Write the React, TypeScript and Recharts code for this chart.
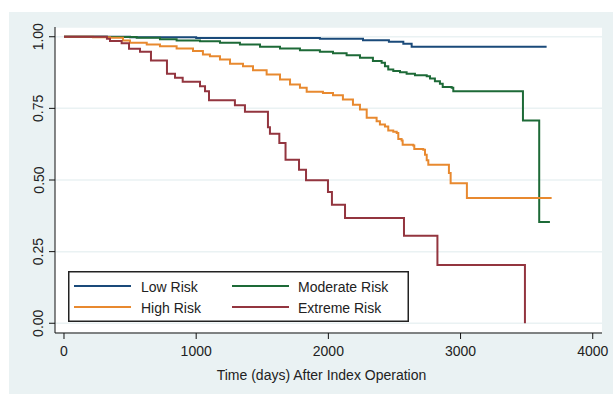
import { LineChart, Line, XAxis, YAxis, CartesianGrid } from 'recharts';

// Kaplan-Meier estimates (time in days, survival proportion)
const lowRiskT = [0, 500, 1000, 1936, 2262, 2458, 2567, 2630, 3651];
const lowRiskS = [1.0, 0.998, 0.996, 0.993, 0.988, 0.9825, 0.9755, 0.965, 0.965];

const moderateRiskT = [
  0, 323, 550, 726, 852, 1029, 1180, 1331, 1483, 1634, 1785, 1936, 2035, 2138, 2239, 2337, 2403,
  2428, 2453, 2491, 2542, 2592, 2655, 2744, 2769, 2806, 2844, 2865, 2933, 2945, 3472, 3595, 3676,
];
const moderateRiskS = [
  1.0, 0.999, 0.9965, 0.991, 0.987, 0.984, 0.979, 0.973, 0.965, 0.959, 0.953, 0.948, 0.942, 0.935,
  0.927, 0.915, 0.909, 0.897, 0.886, 0.88, 0.876, 0.871, 0.866, 0.862, 0.854, 0.845, 0.836, 0.825,
  0.822, 0.81, 0.708, 0.353, 0.353,
];

const highRiskT = [
  0, 219, 348, 446, 499, 626, 726, 852, 976, 1051, 1104, 1180, 1256, 1354, 1430, 1533, 1634, 1710,
  1785, 1836, 1959, 2035, 2110, 2186, 2239, 2290, 2365, 2390, 2428, 2453, 2491, 2517, 2529, 2554,
  2562, 2642, 2650, 2718, 2731, 2744, 2756, 2912, 2925, 3048, 3689,
];
const highRiskS = [
  1.0, 0.998, 0.9965, 0.987, 0.979, 0.973, 0.967, 0.959, 0.95, 0.938, 0.932, 0.921, 0.906, 0.897,
  0.883, 0.868, 0.851, 0.833, 0.822, 0.808, 0.804, 0.796, 0.781, 0.763, 0.746, 0.717, 0.705, 0.694,
  0.687, 0.673, 0.668, 0.664, 0.643, 0.638, 0.623, 0.62, 0.608, 0.606, 0.588, 0.569, 0.553, 0.524,
  0.489, 0.437, 0.437,
];

const extremeRiskT = [
  0, 325, 348, 436, 492, 575, 658, 779, 840, 898, 1029, 1067, 1097, 1293, 1369, 1543, 1558, 1629,
  1676, 1778, 1831, 1997, 2027, 2126, 2572, 2825, 3487,
];
const extremeRiskS = [
  1.0, 0.993, 0.985, 0.977, 0.958, 0.948, 0.917, 0.871, 0.857, 0.843, 0.827, 0.81, 0.778, 0.761,
  0.738, 0.684, 0.661, 0.629, 0.571, 0.536, 0.499, 0.458, 0.414, 0.367, 0.305, 0.203, 0.0,
];

const xTicks = [0, 1000, 2000, 3000, 4000];
const yTicks = [0, 0.25, 0.5, 0.75, 1];

const FONT = '"Liberation Sans", Arial, Helvetica, sans-serif';

const toRows = (t: number[], s: number[]) => t.map((v, i) => ({ t: v, s: s[i] }));

// legend order is row by row: Low, Moderate / High, Extreme
const series = [
  { name: 'Low Risk', color: '#1a4a7a', data: toRows(lowRiskT, lowRiskS) },
  { name: 'Moderate Risk', color: '#1d6a37', data: toRows(moderateRiskT, moderateRiskS) },
  { name: 'High Risk', color: '#e8892f', data: toRows(highRiskT, highRiskS) },
  { name: 'Extreme Risk', color: '#93353f', data: toRows(extremeRiskT, extremeRiskS) },
];

function XTick({ x, payload }: any) {
  return (
    <text x={x} y={356} textAnchor="middle" fontSize={14} fontFamily={FONT} fill="#222">
      {payload.value}
    </text>
  );
}

function YTick({ y, payload }: any) {
  return (
    <text
      x={43.5}
      y={y}
      transform={`rotate(-90 43.5 ${y})`}
      textAnchor="middle"
      fontSize={14}
      fontFamily={FONT}
      fill="#222"
    >
      {Number(payload.value).toFixed(2)}
    </text>
  );
}

function KMLegend() {
  const pos = [
    { lx: 6, tx: 73, y: 15 },
    { lx: 164, tx: 230, y: 15 },
    { lx: 6, tx: 73, y: 36 },
    { lx: 164, tx: 230, y: 36 },
  ];
  return (
    <svg width={341} height={51} style={{ display: 'block' }}>
      <rect x={0.75} y={0.75} width={339.5} height={49.5} fill="#fff" stroke="#222" strokeWidth={1.5} />
      {series.map((it, i) => (
        <g key={it.name}>
          <line x1={pos[i].lx} x2={pos[i].lx + 57} y1={pos[i].y} y2={pos[i].y} stroke={it.color} strokeWidth={2} />
          <text x={pos[i].tx} y={pos[i].y + 5.5} fontSize={14} fontFamily={FONT} fill="#222">
            {it.name}
          </text>
        </g>
      ))}
    </svg>
  );
}

export default function App() {
  return (
    <div style={{ position: 'absolute', left: 0, top: 0, width: 613, height: 394, background: '#fff' }}>
      <div style={{ position: 'absolute', left: 9, top: 12, width: 604, height: 382, background: '#eaf2f3' }} />
      <div style={{ position: 'absolute', left: 0, top: 0 }}>
        <LineChart width={613} height={394} margin={{ top: 27, right: 11, bottom: 0, left: 0 }}>
          <CartesianGrid vertical={false} stroke="#eaf2f3" strokeWidth={1.5} fill="#fff" />
          <XAxis
            type="number"
            dataKey="t"
            domain={[-68, 4070]}
            ticks={xTicks}
            allowDataOverflow
            height={61}
            stroke="#111"
            tickSize={6}
            tick={<XTick />}
            label={{
              value: 'Time (days) After Index Operation',
              position: 'insideBottom',
              offset: 14,
              fontSize: 14,
              fontFamily: FONT,
              fill: '#222',
              dx: -7,
            }}
          />
          <YAxis
            type="number"
            dataKey="s"
            domain={[-0.034, 1.034]}
            ticks={yTicks}
            allowDataOverflow
            width={55}
            stroke="#111"
            tickSize={6}
            tick={<YTick />}
          />
          {series.map((s) => (
            <Line
              key={s.name}
              name={s.name}
              data={s.data}
              dataKey="s"
              type="stepAfter"
              stroke={s.color}
              strokeWidth={2}
              dot={false}
              activeDot={false}
              isAnimationActive={false}
            />
          ))}
        </LineChart>
      </div>
      <div style={{ position: 'absolute', left: 68, top: 271 }}>
        <KMLegend />
      </div>
    </div>
  );
}
